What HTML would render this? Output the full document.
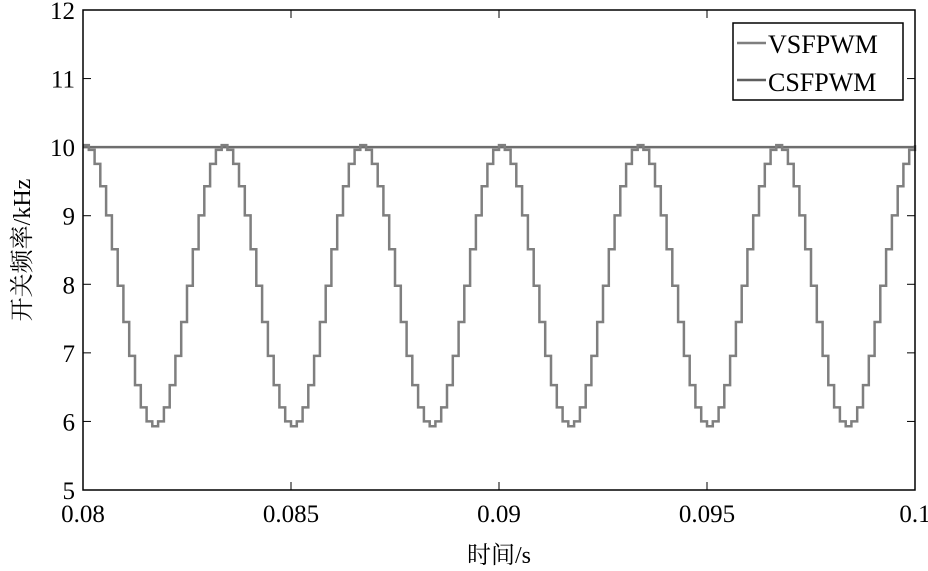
<!DOCTYPE html><html><head><meta charset="utf-8"><style>body{margin:0;background:#fff}svg{display:block}text{font-family:"Liberation Serif","Noto Serif CJK SC",serif;fill:#000}</style></head><body>
<svg id="s" width="928" height="571" xmlns="http://www.w3.org/2000/svg"></svg>
<script>
const s=document.getElementById('s');const L=83,R=915,T=10,B=490;
const X=t=>L+(t-0.08)/0.02*(R-L),Y=v=>B-(v-5)/7*(B-T);
let h='';
for(let v=5;v<=12;v++){const y=Y(v);h+=`<line x1="${L}" y1="${y}" x2="${L+8}" y2="${y}" stroke="#000"/><line x1="${R}" y1="${y}" x2="${R-8}" y2="${y}" stroke="#000"/><text x="${L-8}" y="${y+9}" font-size="25" text-anchor="end">${v}</text>`;}
const xl=['0.08','0.085','0.09','0.095','0.1'];
xl.forEach((l,i)=>{const x=L+i*(R-L)/4;h+=`<line x1="${x}" y1="${B}" x2="${x}" y2="${B-8}" stroke="#000"/><line x1="${x}" y1="${T}" x2="${x}" y2="${T+8}" stroke="#000"/><text x="${x}" y="${B+32}" font-size="25" text-anchor="middle">${l}</text>`;});
h+=`<line x1="${L}" y1="${Y(10)}" x2="${R}" y2="${Y(10)}" stroke="#6e6e6e" stroke-width="2.5"/>`;
let p='',n=24,per=1/300,dt=per/n;let t=0.08;let first=true;
while(t<0.1){const v=7.98+2.05*Math.cos(2*Math.PI*(t-0.08)/per);const t2=Math.min(t+dt,0.1);const y=Y(v);p+=(first?'M':'L')+X(t).toFixed(1)+','+y.toFixed(1)+' L'+X(t2).toFixed(1)+','+y.toFixed(1)+' ';first=false;t=t2;}
h+=`<path d="${p}" fill="none" stroke="#7f7f7f" stroke-width="2.5"/>`;
h+=`<rect x="${L}" y="${T}" width="${R-L}" height="${B-T}" fill="none" stroke="#000" stroke-width="1.5"/>`;
h+=`<rect x="733" y="23" width="170" height="77" fill="#fff" stroke="#000" stroke-width="1.5"/>`;
h+=`<line x1="737" y1="43" x2="766" y2="43" stroke="#7f7f7f" stroke-width="2.5"/><text x="768" y="53" font-size="26">VSFPWM</text>`;
h+=`<line x1="737" y1="80" x2="766" y2="80" stroke="#5e5e5e" stroke-width="2.5"/><text x="768" y="91" font-size="26">CSFPWM</text>`;
h+=`<text x="499" y="563" font-size="24" text-anchor="middle">时间/s</text>`;
h+=`<text transform="translate(30,250) rotate(-90)" font-size="24" text-anchor="middle">开关频率/kHz</text>`;
s.innerHTML=h;
</script></body></html>
